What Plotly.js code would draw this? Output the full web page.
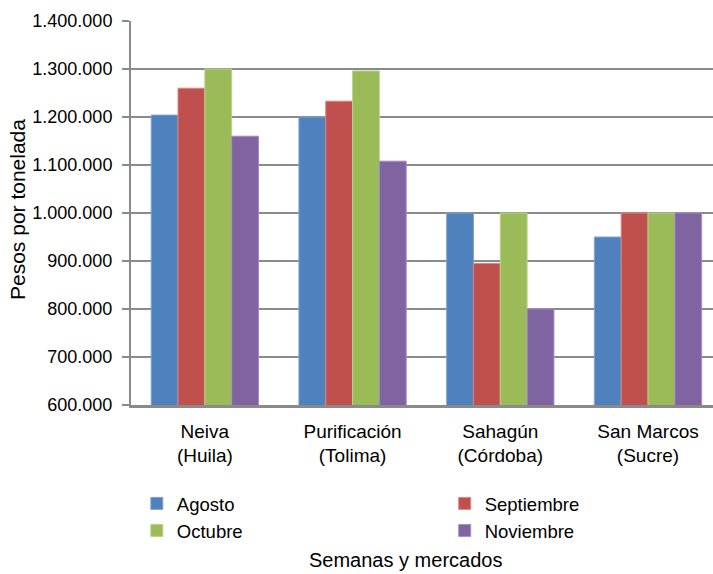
<!DOCTYPE html>
<html>
<head>
<meta charset="utf-8">
<script src="https://cdn.plot.ly/plotly-3.0.1.min.js"></script>
<style>html,body{margin:0;padding:0;overflow:hidden;background:#fff;}</style>
</head>
<body>
<div id="chart" style="width:713px;height:574px;"></div>
<script>
const categories = ["Neiva<br>(Huila)", "Purificación<br>(Tolima)", "Sahagún<br>(Córdoba)", "San Marcos<br>(Sucre)"];
const seriesNames = ["Agosto", "Septiembre", "Octubre", "Noviembre"];
const agosto = [1204000, 1200000, 1000000, 950000];
const septiembre = [1260000, 1233000, 895000, 1000000];
const octubre = [1300000, 1296000, 1000000, 1000000];
const noviembre = [1160000, 1108000, 800000, 1000000];
const colors = ["#4F81BD", "#C0504D", "#9BBB59", "#8064A2"];
const lineColors = ["#7FA3D3", "#D98683", "#B9D38A", "#A18FC0"];
const legendGroups = ["legend", "legend2", "legend", "legend2"];
const yTicks = [600000, 700000, 800000, 900000, 1000000, 1100000, 1200000, 1300000, 1400000];

const values = [agosto, septiembre, octubre, noviembre];
const FONT = "Liberation Sans, Arial, sans-serif";

const traces = values.map((v, i) => ({
  type: "bar",
  name: seriesNames[i],
  x: categories,
  y: v,
  legend: legendGroups[i],
  marker: {color: colors[i], line: {color: lineColors[i], width: 1}},
  hoverinfo: "x+y+name"
}));

const legendBase = {
  orientation: "v",
  xanchor: "left",
  y: -0.208, yanchor: "top",
  font: {family: FONT, size: 18.5, color: "#000"},
  traceorder: "normal",
  bgcolor: "rgba(0,0,0,0)",
  borderwidth: 0
};

const layout = {
  width: 713,
  height: 574,
  margin: {l: 131, r: 0, t: 21, b: 169, pad: 0},
  paper_bgcolor: "#fff",
  plot_bgcolor: "#fff",
  separators: ",.",
  barmode: "group",
  bargap: 0.2735,
  bargroupgap: 0,
  font: {family: FONT, color: "#000", size: 18},
  showlegend: true,
  legend: Object.assign({}, legendBase, {x: 0.01}),
  legend2: Object.assign({}, legendBase, {x: 0.539}),
  xaxis: {
    type: "category",
    range: [-0.5, 3.44],
    showgrid: false,
    showline: true,
    linecolor: "#8a8a8a",
    linewidth: 2.5,
    ticks: "",
    ticklabelstandoff: 7,
    tickfont: {family: FONT, size: 19, color: "#000"},
    zeroline: false,
    fixedrange: true
  },
  yaxis: {
    range: [600000, 1400000],
    tickvals: yTicks,
    tickformat: ",.0f",
    showgrid: true,
    gridcolor: "#8a8a8a",
    gridwidth: 2,
    showline: true,
    linecolor: "#8a8a8a",
    linewidth: 2,
    ticks: "outside",
    ticklen: 7,
    tickwidth: 2,
    tickcolor: "#8a8a8a",
    ticklabelstandoff: 6,
    tickfont: {family: FONT, size: 18, color: "#000"},
    zeroline: false,
    fixedrange: true
  },
  annotations: [
    {text: "Pesos por tonelada", xref: "paper", yref: "paper", x: -0.1959, y: 0.5104,
     xanchor: "center", yanchor: "middle", textangle: -90, showarrow: false,
     font: {family: FONT, size: 21, color: "#000"}},
    {text: "Semanas y mercados", xref: "paper", yref: "paper", x: 0.4708, y: -0.404,
     xanchor: "center", yanchor: "middle", showarrow: false,
     font: {family: FONT, size: 20, color: "#000"}}
  ]
};

Plotly.newPlot("chart", traces, layout, {displayModeBar: false});
</script>
</body>
</html>
